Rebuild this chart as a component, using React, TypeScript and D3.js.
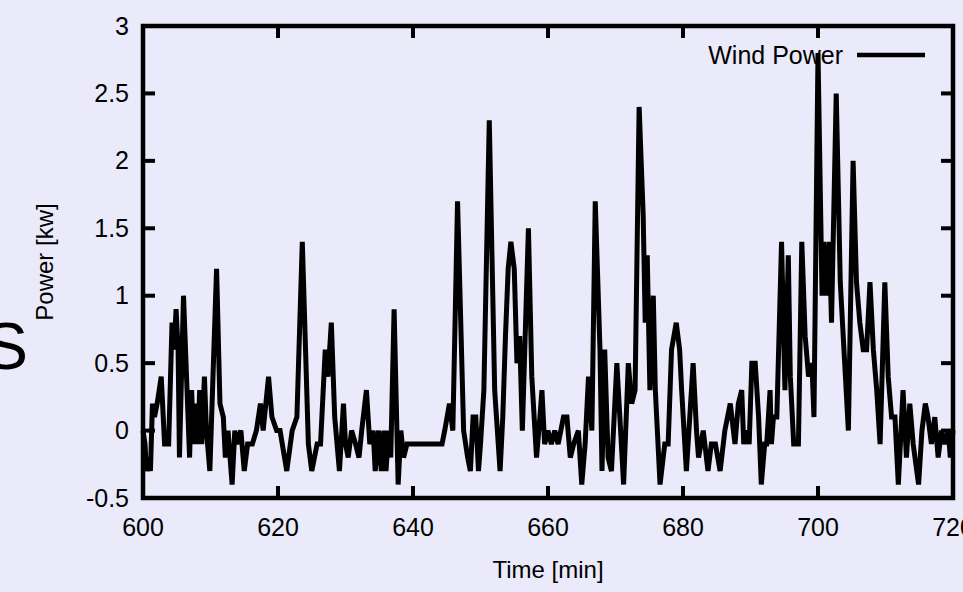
import React from "react";
import * as d3 from "d3";

const times = [
  600.0, 600.3, 600.5, 600.8, 601.1, 601.4, 601.7, 602.1, 602.7, 603.2, 603.8, 604.3, 604.6, 604.9, 605.2, 605.4,
  606.0, 606.3, 606.9, 607.2, 607.5, 607.9, 608.1, 608.4, 608.7, 609.1, 609.4, 609.9, 610.3, 610.9, 611.4, 611.9,
  612.2, 612.6, 613.2, 613.6, 613.9, 614.5, 615.0, 615.5, 616.2, 616.8, 617.4, 617.8, 618.6, 619.1, 619.8, 620.3,
  621.3, 622.1, 622.8, 623.6, 624.5, 625.0, 625.8, 626.3, 627.0, 627.4, 627.9, 628.4, 629.1, 629.7, 630.0, 630.4,
  630.9, 631.5, 632.0, 632.4, 633.1, 633.6, 634.1, 634.4, 634.9, 635.3, 635.7, 636.0, 636.4, 636.7, 637.2, 637.8,
  638.2, 638.6, 639.1, 644.3, 644.7, 645.4, 645.9, 646.6, 647.5, 648.1, 648.5, 648.9, 649.3, 649.7, 650.0, 650.5,
  651.3, 652.1, 652.9, 653.3, 653.7, 654.1, 654.5, 655.0, 655.4, 655.8, 656.2, 657.1, 657.6, 658.3, 658.8, 659.1,
  659.5, 660.0, 660.5, 661.0, 661.5, 662.3, 662.8, 663.3, 663.8, 664.5, 665.0, 665.5, 666.0, 666.5, 667.0, 667.7,
  668.0, 668.4, 668.9, 669.4, 670.2, 671.2, 671.9, 672.4, 672.9, 673.5, 674.1, 674.4, 674.7, 675.1, 675.6, 675.9,
  676.6, 677.3, 677.8, 678.3, 679.0, 679.5, 679.8, 680.5, 681.5, 682.0, 682.3, 683.0, 683.7, 684.2, 684.8, 685.5,
  686.2, 687.0, 687.7, 688.2, 688.7, 689.0, 689.4, 689.8, 690.2, 690.7, 691.2, 691.6, 692.1, 692.4, 692.9, 693.1,
  693.4, 693.9, 694.6, 695.1, 695.6, 695.9, 696.4, 697.1, 697.6, 698.1, 698.6, 699.1, 699.4, 700.0, 700.6, 700.9,
  701.3, 701.7, 702.0, 702.7, 703.3, 704.5, 705.2, 705.7, 706.2, 706.7, 707.2, 707.7, 708.2, 708.7, 709.2, 709.9,
  710.4, 710.9, 711.4, 711.9, 712.6, 713.1, 713.6, 714.1, 714.9, 715.4, 715.9, 716.3, 716.8, 717.3, 717.8, 718.3,
  718.8, 719.3, 719.6, 720.0,
];

const power = [
  0.0, -0.1, -0.3, -0.2, -0.3, 0.2, 0.1, 0.2, 0.4, -0.1, -0.1, 0.8, 0.6, 0.9, 0.6, -0.2,
  1.0, 0.6, -0.2, 0.3, -0.1, 0.2, -0.1, 0.3, -0.1, 0.4, 0.0, -0.3, 0.3, 1.2, 0.2, 0.1,
  -0.2, 0.0, -0.4, 0.0, -0.1, 0.0, -0.3, -0.1, -0.1, 0.0, 0.2, 0.0, 0.4, 0.1, 0.0, 0.0,
  -0.3, 0.0, 0.1, 1.4, -0.1, -0.3, -0.1, -0.1, 0.6, 0.4, 0.8, 0.1, -0.3, 0.2, -0.1, -0.2,
  0.0, -0.1, -0.2, 0.0, 0.3, -0.1, 0.0, -0.3, 0.0, -0.3, 0.0, -0.3, 0.0, -0.2, 0.9, -0.4,
  0.0, -0.2, -0.1, -0.1, 0.0, 0.2, 0.0, 1.7, 0.0, -0.2, -0.3, 0.1, 0.1, -0.3, -0.1, 0.3,
  2.3, 0.3, -0.3, 0.1, 0.7, 1.2, 1.4, 1.2, 0.5, 0.7, 0.0, 1.5, 0.4, -0.2, 0.1, 0.3,
  -0.1, 0.0, -0.1, 0.0, -0.1, 0.1, 0.1, -0.2, -0.1, 0.0, -0.4, -0.1, 0.4, 0.0, 1.7, 0.6,
  -0.3, 0.6, -0.2, -0.3, 0.5, -0.4, 0.5, 0.2, 0.3, 2.4, 1.6, 0.8, 1.3, 0.3, 1.0, 0.3,
  -0.4, -0.1, -0.1, 0.6, 0.8, 0.6, 0.3, -0.3, 0.5, 0.0, -0.2, 0.0, -0.3, -0.1, -0.1, -0.3,
  0.0, 0.2, -0.1, 0.2, 0.3, -0.1, 0.0, -0.1, 0.5, 0.5, 0.1, -0.4, -0.1, -0.1, 0.3, -0.1,
  0.1, 0.1, 1.4, 0.3, 1.3, 0.4, -0.1, -0.1, 1.4, 0.7, 0.4, 0.5, 0.1, 2.8, 1.0, 1.4,
  1.0, 1.4, 0.8, 2.5, 1.1, 0.0, 2.0, 1.1, 0.8, 0.6, 0.6, 1.1, 0.6, 0.3, -0.1, 1.1,
  0.4, 0.1, 0.1, -0.4, 0.3, -0.2, 0.2, -0.1, -0.4, 0.0, 0.2, 0.1, -0.1, 0.1, -0.2, 0.0,
  -0.1, 0.0, -0.2, 0.0,
];

const xTicks = [600, 620, 640, 660, 680, 700, 720];
const yTicks = [-0.5, 0, 0.5, 1, 1.5, 2, 2.5, 3];
const yTickLabels = ["-0.5", "0", "0.5", "1", "1.5", "2", "2.5", "3"];

const W = 963;
const H = 592;
const BG = "#eaeafa";
const FONT = "'Liberation Sans', Arial, sans-serif";

export default function App() {
  React.useEffect(() => {
    document.body.style.margin = "0";
    document.body.style.background = BG;
  }, []);

  const left = 143, right = 953, top = 26, bottom = 498;
  const x = d3.scaleLinear().domain([600, 720]).range([left, right]);
  const y = d3.scaleLinear().domain([-0.5, 3]).range([bottom, top]);
  const pts = times.map((t, i) => [t, power[i]] as [number, number]);
  const line = d3
    .line<[number, number]>()
    .x((d) => x(d[0]))
    .y((d) => y(d[1]));
  const tickLen = 12;

  return (
    <div style={{ position: "absolute", left: 0, top: 0, width: W, height: H, background: BG }}>
      <svg width={W} height={H} style={{ display: "block" }} fontFamily={FONT}>
        <rect x={0} y={0} width={W} height={H} fill={BG} />
        <text x={28} y={369} fontSize={66} textAnchor="end" fill="#000">
          S
        </text>
        <text
          transform={`translate(53,${(top + bottom) / 2}) rotate(-90)`}
          fontSize={24}
          textAnchor="middle"
          fill="#000"
        >
          Power [kw]
        </text>
        <text x={(left + right) / 2} y={578} fontSize={24} textAnchor="middle" fill="#000">
          Time [min]
        </text>
        {xTicks.map((t) => (
          <g key={"x" + t}>
            <line x1={x(t)} x2={x(t)} y1={bottom} y2={bottom - tickLen} stroke="#000" strokeWidth={4} />
            <line x1={x(t)} x2={x(t)} y1={top} y2={top + tickLen} stroke="#000" strokeWidth={4} />
            <text x={x(t)} y={536} fontSize={25} textAnchor="middle" fill="#000">
              {t}
            </text>
          </g>
        ))}
        {yTicks.map((v, i) => (
          <g key={"y" + v}>
            <line x1={left} x2={left + tickLen} y1={y(v)} y2={y(v)} stroke="#000" strokeWidth={4} />
            <line x1={right} x2={right - tickLen} y1={y(v)} y2={y(v)} stroke="#000" strokeWidth={4} />
            <text x={129} y={y(v) + 8.5} fontSize={25} textAnchor="end" fill="#000">
              {yTickLabels[i]}
            </text>
          </g>
        ))}
        <path d={line(pts) || ""} fill="none" stroke="#000" strokeWidth={5} strokeLinejoin="miter" />
        <text x={843} y={64} fontSize={25} textAnchor="end" fill="#000">
          Wind Power
        </text>
        <line x1={857} x2={925} y1={55} y2={55} stroke="#000" strokeWidth={4.5} />
        <rect
          x={left}
          y={top}
          width={right - left}
          height={bottom - top}
          fill="none"
          stroke="#000"
          strokeWidth={4.5}
        />
      </svg>
    </div>
  );
}
